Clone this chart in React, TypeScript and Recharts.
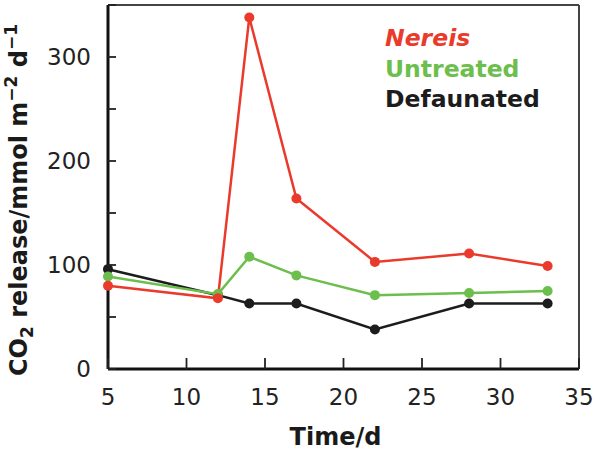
import React from 'react';
import { LineChart, Line, XAxis, YAxis, Legend, ReferenceLine } from 'recharts';

const days = [5, 12, 14, 17, 22, 28, 33];
const nereis = [80, 68, 338, 164, 103, 111, 99];
const untreated = [89, 72, 108, 90, 71, 73, 75];
const defaunated = [96, 71, 63, 63, 38, 63, 63];
const xTicks = [5, 10, 15, 20, 25, 30, 35];
const yTicks = [0, 50, 100, 150, 200, 250, 300, 350];
const yLabels = [0, 100, 200, 300];
const legendOrder = ['Nereis', 'Untreated', 'Defaunated'];

const RED = '#ea3a2b';
const GREEN = '#6cbe4d';
const BLACK = '#1c1c1c';

const data = days.map((d, i) => ({
  day: d,
  Nereis: nereis[i],
  Untreated: untreated[i],
  Defaunated: defaunated[i],
}));

const FONT = '"DejaVu Sans", sans-serif';

const XTick = (props: any) => {
  const { x, y, payload } = props;
  return (
    <g>
      <line x1={x} y1={y} x2={x} y2={y - 11} stroke="#222" strokeWidth={1.8} />
      <text x={x} y={y + 36} textAnchor="middle" fontFamily={FONT} fontSize={23} fill="#222">
        {payload.value}
      </text>
    </g>
  );
};

const YTick = (props: any) => {
  const { x, y, payload } = props;
  const show = yLabels.includes(payload.value);
  return (
    <g>
      <line x1={x} y1={y} x2={x + 8} y2={y} stroke="#222" strokeWidth={1.8} />
      {show && (
        <text x={x - 17} y={y + 8.4} textAnchor="end" fontFamily={FONT} fontSize={23} fill="#222">
          {payload.value}
        </text>
      )}
    </g>
  );
};

const XTitle = (props: any) => {
  const vb = props.viewBox || {};
  const cx = (vb.x ?? 0) + (vb.width ?? 0) / 2 - 8;
  return (
    <text x={cx} y={445} textAnchor="middle" fontFamily={FONT} fontWeight="bold" fontSize={24} fill="#1a1a1a">
      Time/d
    </text>
  );
};

const YTitle = () => {
  const x = 27;
  const y = 200;
  return (
    <text
      x={x}
      y={y}
      transform={`rotate(-90 ${x} ${y})`}
      textAnchor="middle"
      fontFamily={FONT}
      fontWeight="bold"
      fontSize={24}
      fill="#1a1a1a"
    >
      CO
      <tspan fontSize={17} dy={6}>2</tspan>
      <tspan dy={-6}> release/mmol m</tspan>
      <tspan fontSize={17} dy={-10}>−2</tspan>
      <tspan dy={10}> d</tspan>
      <tspan fontSize={17} dy={-10}>−1</tspan>
    </text>
  );
};

const LegendContent = (props: any) => {
  const payload = [...(props.payload || [])].sort(
    (a: any, b: any) => legendOrder.indexOf(a.value) - legendOrder.indexOf(b.value)
  );
  return (
    <div style={{ fontFamily: FONT, fontWeight: 'bold', fontSize: 23.5, lineHeight: '30.5px', margin: 0, padding: 0 }}>
      {payload.map((p: any) => (
        <div key={p.value} style={{ color: p.color, fontStyle: p.value === 'Nereis' ? 'italic' : 'normal', whiteSpace: 'nowrap' }}>
          {p.value}
        </div>
      ))}
    </div>
  );
};

export default function App() {
  return (
    <div style={{ position: 'absolute', left: 0, top: 0, background: '#fff' }}>
      <LineChart width={600} height={452} data={data} margin={{ top: 5, right: 21, left: 0, bottom: 0 }}>
        <XAxis
          dataKey="day"
          type="number"
          domain={[5, 35]}
          ticks={xTicks}
          interval={0}
          tickSize={0}
          tickMargin={0}
          height={83}
          axisLine={{ stroke: '#111', strokeWidth: 3 }}
          tickLine={false}
          tick={<XTick />}
          label={<XTitle />}
        />
        <YAxis
          type="number"
          domain={[0, 350]}
          ticks={yTicks}
          interval={0}
          tickSize={0}
          tickMargin={0}
          width={108}
          axisLine={{ stroke: '#111', strokeWidth: 3 }}
          tickLine={false}
          tick={<YTick />}
          label={<YTitle />}
        />
        <ReferenceLine x={35} stroke="#444" strokeWidth={2} />
        <ReferenceLine y={350} stroke="#444" strokeWidth={2} />
        <Legend
          layout="vertical"
          align="center"
          verticalAlign="middle"
          content={<LegendContent />}
          wrapperStyle={{ left: 385, top: 23, width: 'auto', margin: 0, padding: 0 }}
        />
        <Line dataKey="Defaunated" name="Defaunated" stroke={BLACK} fill={BLACK} strokeWidth={2.5}
          dot={{ r: 5, fill: BLACK, stroke: 'none' }} activeDot={false} isAnimationActive={false} />
        <Line dataKey="Untreated" name="Untreated" stroke={GREEN} fill={GREEN} strokeWidth={2.5}
          dot={{ r: 5, fill: GREEN, stroke: 'none' }} activeDot={false} isAnimationActive={false} />
        <Line dataKey="Nereis" name="Nereis" stroke={RED} fill={RED} strokeWidth={2.5}
          dot={{ r: 5, fill: RED, stroke: 'none' }} activeDot={false} isAnimationActive={false} />
      </LineChart>
    </div>
  );
}
